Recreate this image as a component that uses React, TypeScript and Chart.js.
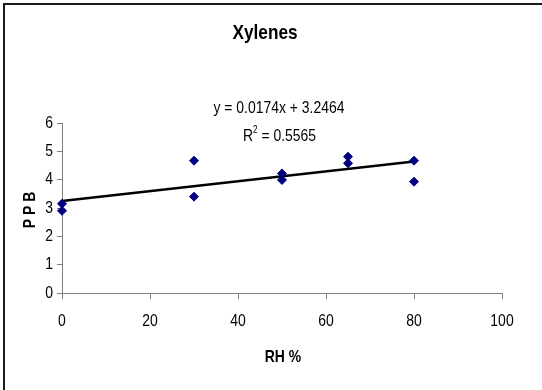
import React, { useEffect, useRef } from "react";
import { Chart, registerables } from "chart.js";

Chart.register(...registerables);

const rhValues = [0, 0, 30, 30, 50, 50, 65, 65, 80, 80];
const ppbValues = [3.15, 2.9, 4.67, 3.4, 4.22, 3.99, 4.81, 4.58, 4.67, 3.93];
const trendX = [0, 80];
const trendY = [3.2464, 4.6384];
const xTicks = [0, 20, 40, 60, 80, 100];
const yTicks = [0, 1, 2, 3, 4, 5, 6];
const chartTitle = "Xylenes";
const xTitle = "RH %";
const yTitle = "P P B";
const equationText = "y = 0.0174x + 3.2464";
const r2Value = "0.5565";

const FONT = "'Liberation Sans', Arial, sans-serif";
const SX = 0.82; // horizontal condensing to mimic a narrow face

function narrowText(
  ctx: CanvasRenderingContext2D,
  text: string,
  x: number,
  y: number,
  font: string,
  align: "left" | "center" | "right"
) {
  ctx.save();
  ctx.font = font;
  ctx.textBaseline = "middle";
  ctx.textAlign = align;
  ctx.translate(x, y);
  ctx.scale(SX, 1);
  ctx.fillText(text, 0, 0);
  ctx.restore();
}

function narrowWidth(ctx: CanvasRenderingContext2D, text: string, font: string) {
  ctx.save();
  ctx.font = font;
  const w = ctx.measureText(text).width * SX;
  ctx.restore();
  return w;
}

export default function App() {
  const ref = useRef<HTMLCanvasElement | null>(null);

  useEffect(() => {
    document.body.style.margin = "0";
    const canvas = ref.current;
    if (!canvas) return;

    const overlay = {
      id: "overlay",
      afterDraw(chart: any) {
        const ctx: CanvasRenderingContext2D = chart.ctx;
        const area = chart.chartArea;
        const xs = chart.scales.x;
        const ys = chart.scales.y;
        ctx.save();
        // frame
        ctx.strokeStyle = "#1a1a1a";
        ctx.lineWidth = 2;
        ctx.beginPath();
        ctx.moveTo(4, 400);
        ctx.lineTo(4, 4);
        ctx.lineTo(560, 4);
        ctx.stroke();
        ctx.fillStyle = "#000";

        const reg = `17px ${FONT}`;
        const bold17 = `bold 17px ${FONT}`;
        // tick labels from the scales
        xTicks.forEach((v) => {
          narrowText(ctx, String(v), xs.getPixelForValue(v), 321, reg, "center");
        });
        yTicks.forEach((v) => {
          narrowText(ctx, String(v), 53, ys.getPixelForValue(v), reg, "right");
        });

        // title
        narrowText(ctx, chartTitle, 265, 33, `bold 21px ${FONT}`, "center");
        // equation
        narrowText(ctx, equationText, 279, 108, reg, "center");
        // R^2
        const left = "R";
        const right = " = " + r2Value;
        const sup = `10px ${FONT}`;
        const wl = narrowWidth(ctx, left, reg);
        const ws = narrowWidth(ctx, "2", sup);
        const wr = narrowWidth(ctx, right, reg);
        const x0 = 279.5 - (wl + ws + wr) / 2;
        narrowText(ctx, left, x0, 136, reg, "left");
        narrowText(ctx, "2", x0 + wl, 130, sup, "left");
        narrowText(ctx, right, x0 + wl + ws, 136, reg, "left");
        // axis titles
        narrowText(ctx, xTitle, 283, 357, bold17, "center");
        ctx.save();
        ctx.translate(30, (area.top + area.bottom) / 2 + 2);
        ctx.rotate(-Math.PI / 2);
        narrowText(ctx, yTitle, 0, 0, bold17, "center");
        ctx.restore();
        ctx.restore();
      },
    };

    const hidden = "rgba(0,0,0,0)";

    const chart = new Chart(canvas, {
      type: "scatter",
      data: {
        datasets: [
          {
            type: "line",
            label: "Trend",
            data: trendX.map((x, i) => ({ x, y: trendY[i] })),
            borderColor: "#000",
            borderWidth: 2.5,
            pointRadius: 0,
            fill: false,
            clip: false,
            order: 1,
          } as any,
          {
            label: "PPB",
            data: rhValues.map((x, i) => ({ x, y: ppbValues[i] })),
            pointStyle: "rectRot",
            pointRadius: 4.5,
            pointHoverRadius: 4.5,
            backgroundColor: "#000080",
            borderColor: "#000080",
            borderWidth: 1,
            clip: false,
            order: 0,
          } as any,
        ],
      },
      options: {
        animation: false,
        responsive: false,
        maintainAspectRatio: false,
        layout: { padding: { top: 123, right: 40, bottom: 0, left: 0 } },
        plugins: {
          legend: { display: false },
          title: { display: false },
          tooltip: { enabled: false },
        },
        scales: {
          x: {
            type: "linear",
            min: 0,
            max: 100,
            afterBuildTicks: (s: any) => {
              s.ticks = xTicks.map((v) => ({ value: v }));
            },
            afterFit: (s: any) => {
              s.height = 97;
            },
            border: { color: "#7f7f7f", width: 1 },
            grid: {
              drawOnChartArea: false,
              drawTicks: true,
              tickLength: 6,
              color: "#7f7f7f",
            },
            ticks: {
              color: hidden,
              font: { family: FONT, size: 17 },
              padding: 6,
              maxRotation: 0,
            },
          },
          y: {
            type: "linear",
            min: 0,
            max: 6,
            afterBuildTicks: (s: any) => {
              s.ticks = yTicks.map((v) => ({ value: v }));
            },
            afterFit: (s: any) => {
              s.width = 62;
            },
            border: { color: "#7f7f7f", width: 1 },
            grid: {
              drawOnChartArea: false,
              drawTicks: true,
              tickLength: 5,
              color: "#7f7f7f",
            },
            ticks: {
              color: hidden,
              font: { family: FONT, size: 17 },
              padding: 5,
            },
          },
        },
      },
      plugins: [overlay],
    });

    return () => chart.destroy();
  }, []);

  return (
    <div style={{ width: 542, height: 390, position: "relative", background: "#fff" }}>
      <canvas ref={ref} width={542} height={390} style={{ display: "block" }} />
    </div>
  );
}
